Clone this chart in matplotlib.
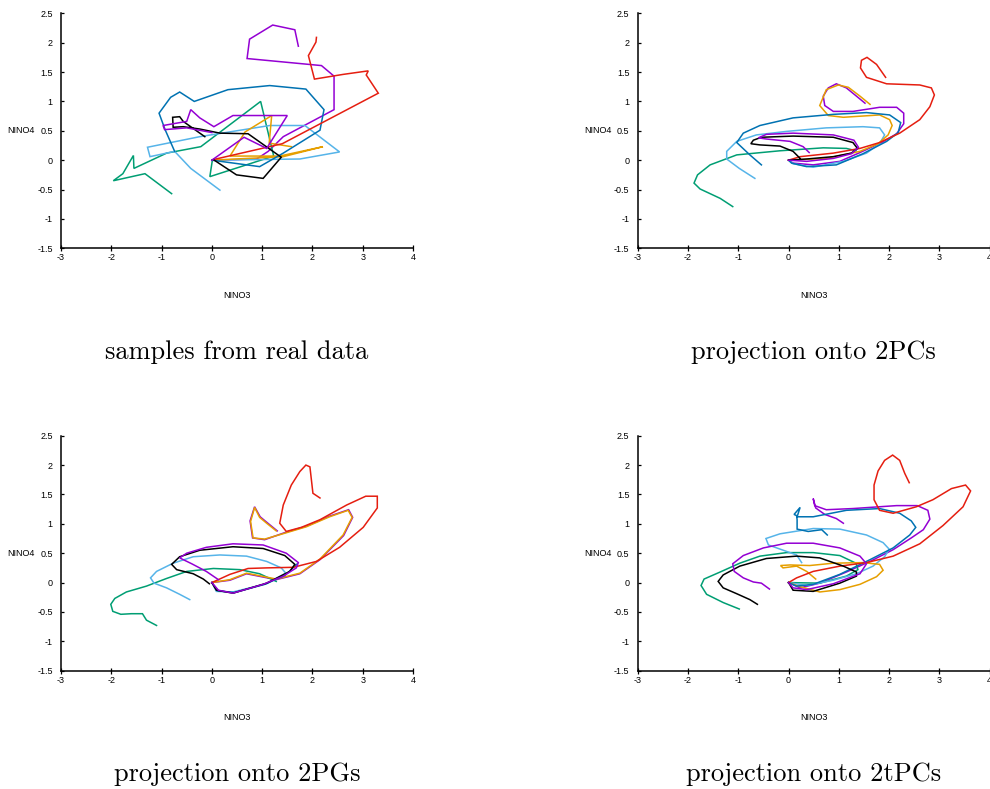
import matplotlib
matplotlib.use("Agg")
import matplotlib.pyplot as plt
from matplotlib.ticker import FormatStrFormatter

plt.rcParams["axes.unicode_minus"] = False

# gnuplot-like line colours
C_PURPLE = "#9400d3"
C_GREEN = "#009e73"
C_LBLUE = "#56b4e9"
C_ORANGE = "#e69f00"
C_DBLUE = "#0072b2"
C_RED = "#e51e10"
C_BLACK = "#000000"

titles = ["samples from real data", "projection onto 2PCs",
          "projection onto 2PGs", "projection onto 2tPCs"]
x_ticks = [-3, -2, -1, 0, 1, 2, 3, 4]
y_ticks = [-1.5, -1, -0.5, 0, 0.5, 1, 1.5, 2, 2.5]

# ---------------------------------------
# panel 1: samples from real data  (NINO3, NINO4) pairs
# ---------------------------------------
real_purple_a = [(1.72, 1.94), (1.65, 2.22), (1.21, 2.30), (0.75, 2.06), (0.70, 1.73),
                 (2.18, 1.61), (2.43, 1.43), (2.43, 0.86), (1.42, 0.40), (1.12, 0.15),
                 (0.89, 0.02), (0.0, 0.0)]
real_green = [(-0.80, -0.57), (-1.33, -0.23), (-1.96, -0.35), (-1.77, -0.23), (-1.56, 0.08),
              (-1.55, -0.14), (-0.90, 0.12), (-0.22, 0.23), (0.97, 1.00), (1.23, 0.07),
              (-0.04, -0.28), (0.01, 0.0)]
real_lblue = [(0.16, -0.51), (-0.42, -0.14), (-0.74, 0.15), (-1.23, 0.06), (-1.28, 0.22),
              (-0.24, 0.40), (1.15, 0.59), (1.85, 0.59), (2.54, 0.14), (1.75, 0.02), (0.0, 0.0)]
real_orange = [(0.0, 0.0), (1.42, 0.06), (2.21, 0.23), (1.35, 0.07), (0.36, 0.07), (0.66, 0.48),
               (1.19, 0.76), (1.14, 0.29), (1.58, 0.23)]
real_dblue = [(-0.74, 0.15), (-0.93, 0.52), (-1.05, 0.80), (-0.82, 1.07), (-0.64, 1.16),
              (-0.35, 1.00), (0.32, 1.20), (1.15, 1.27), (1.87, 1.21), (2.23, 0.86),
              (2.15, 0.51), (1.42, 0.12), (0.95, -0.11), (0.0, 0.0)]
real_red = [(2.08, 2.09), (2.07, 2.01), (1.92, 1.78), (2.04, 1.38), (2.61, 1.46), (3.11, 1.52),
            (3.07, 1.45), (3.31, 1.14), (1.40, 0.28), (0.03, 0.01)]
real_black = [(-0.14, 0.40), (-0.57, 0.66), (-0.64, 0.74), (-0.78, 0.73), (-0.77, 0.56),
              (-0.57, 0.57), (-0.24, 0.53), (0.16, 0.46), (0.72, 0.45), (1.38, 0.05),
              (1.02, -0.31), (0.49, -0.25), (0.03, 0.01)]
real_purple_b = [(0.0, 0.0), (0.64, 0.39), (1.09, 0.20), (1.50, 0.76), (0.42, 0.76), (0.04, 0.57),
                 (-0.24, 0.72), (-0.42, 0.86), (-0.50, 0.66), (-0.97, 0.59), (-0.94, 0.52),
                 (-0.50, 0.55), (0.0, 0.47)]

# ---------------------------------------
# panel 2: projection onto 2PCs
# ---------------------------------------
pc_purple_a = [(1.52, 0.97), (1.35, 1.09), (1.15, 1.23), (0.95, 1.30), (0.79, 1.23), (0.69, 1.09),
               (0.72, 0.93), (0.89, 0.83), (1.28, 0.83), (1.81, 0.90), (2.15, 0.90), (2.29, 0.80),
               (2.29, 0.62), (2.15, 0.45), (1.85, 0.30), (1.42, 0.13), (1.02, -0.02),
               (0.49, -0.08), (0.09, -0.05), (0.0, 0.0)]
pc_green = [(-1.11, -0.79), (-1.36, -0.65), (-1.76, -0.49), (-1.88, -0.39), (-1.81, -0.25),
            (-1.56, -0.08), (-1.03, 0.09), (-0.17, 0.16), (0.69, 0.21), (1.15, 0.20), (1.34, 0.16)]
pc_lblue = [(-0.67, -0.31), (-0.98, -0.14), (-1.23, 0.02), (-1.23, 0.15), (-1.03, 0.32),
            (-0.64, 0.43), (-0.04, 0.49), (0.75, 0.55), (1.48, 0.57), (1.81, 0.55), (1.91, 0.43),
            (1.81, 0.28), (1.55, 0.12), (1.09, -0.02), (0.49, -0.12), (0.09, -0.06), (0.0, 0.0)]
pc_orange = [(1.62, 0.95), (1.42, 1.09), (1.19, 1.24), (0.99, 1.28), (0.75, 1.20), (0.62, 0.93),
             (0.79, 0.76), (1.09, 0.73), (1.81, 0.77), (2.01, 0.69), (2.06, 0.59), (1.98, 0.43),
             (1.78, 0.28), (1.42, 0.15), (0.75, 0.03), (0.0, 0.0)]
pc_dblue = [(-0.54, -0.08), (-0.77, 0.09), (-1.03, 0.30), (-0.90, 0.46), (-0.57, 0.59),
            (0.09, 0.72), (0.89, 0.78), (1.55, 0.81), (2.01, 0.77), (2.23, 0.64), (2.18, 0.47),
            (1.95, 0.32), (1.48, 0.11), (0.95, -0.08), (0.36, -0.11), (0.06, -0.05), (0.0, 0.0)]
pc_red = [(1.93, 1.41), (1.75, 1.63), (1.56, 1.75), (1.45, 1.70), (1.43, 1.57), (1.55, 1.41),
          (1.95, 1.30), (2.61, 1.28), (2.84, 1.23), (2.90, 1.11), (2.81, 0.91), (2.61, 0.69),
          (2.21, 0.46), (1.81, 0.30), (1.42, 0.20), (0.89, 0.12), (0.23, 0.06), (0.0, 0.0)]
pc_black = [(0.23, 0.03), (0.09, 0.15), (-0.17, 0.24), (-0.57, 0.26), (-0.75, 0.28), (-0.70, 0.34),
            (-0.54, 0.39), (0.09, 0.41), (0.89, 0.39), (1.28, 0.30), (1.37, 0.20), (1.25, 0.12),
            (0.89, 0.06), (0.36, 0.02), (0.0, 0.0)]
pc_purple_b = [(0.41, 0.13), (0.29, 0.23), (0.03, 0.32), (-0.44, 0.36), (-0.60, 0.38),
               (-0.44, 0.44), (0.09, 0.46), (0.89, 0.43), (1.30, 0.34), (1.39, 0.22), (1.25, 0.11),
               (0.89, 0.03), (0.36, -0.02), (0.0, 0.0)]

# ---------------------------------------
# panel 3: projection onto 2PGs
# ---------------------------------------
pg_purple_a = [(1.30, 0.88), (1.10, 1.02), (0.96, 1.12), (0.85, 1.29), (0.76, 1.05), (0.81, 0.76),
               (1.05, 0.73), (1.45, 0.85), (1.88, 0.96), (2.34, 1.13), (2.72, 1.24), (2.80, 1.11),
               (2.62, 0.80), (2.15, 0.39), (1.75, 0.15), (1.28, 0.05), (0.69, 0.15), (0.36, 0.04),
               (0.0, 0.0)]
pg_green = [(-1.10, -0.73), (-1.30, -0.64), (-1.38, -0.53), (-1.60, -0.53), (-1.81, -0.54),
            (-1.97, -0.49), (-2.01, -0.37), (-1.93, -0.27), (-1.70, -0.16), (-1.30, -0.06),
            (-0.90, 0.07), (-0.50, 0.19), (0.03, 0.24), (0.56, 0.22), (0.95, 0.15), (1.28, 0.02)]
pg_lblue = [(-0.44, -0.29), (-0.64, -0.20), (-0.90, -0.09), (-1.15, -0.01), (-1.22, 0.08),
            (-1.10, 0.19), (-0.77, 0.33), (-0.37, 0.44), (0.16, 0.47), (0.69, 0.45), (1.09, 0.36),
            (1.38, 0.25), (1.47, 0.16), (1.09, -0.02), (0.42, -0.16), (0.09, -0.15), (0.0, 0.0)]
pg_orange = [(1.28, 0.88), (1.09, 1.01), (0.95, 1.11), (0.85, 1.28), (0.77, 1.04), (0.82, 0.76),
             (1.05, 0.74), (1.45, 0.84), (1.88, 0.95), (2.34, 1.12), (2.71, 1.23), (2.79, 1.11),
             (2.61, 0.81), (2.15, 0.40), (1.75, 0.16), (1.28, 0.06), (0.69, 0.16), (0.36, 0.05),
             (0.0, 0.0)]
pg_dblue = [(1.70, 0.32), (1.45, 0.12), (1.05, -0.03), (0.45, -0.17), (0.12, -0.14), (0.0, 0.0)]
pg_red = [(2.15, 1.44), (2.01, 1.52), (1.95, 1.97), (1.87, 2.00), (1.75, 1.89), (1.58, 1.66),
          (1.42, 1.32), (1.35, 1.01), (1.48, 0.87), (1.78, 0.94), (2.15, 1.07), (2.68, 1.32),
          (3.06, 1.47), (3.29, 1.47), (3.29, 1.27), (3.01, 0.94), (2.54, 0.60), (2.08, 0.36),
          (1.62, 0.26), (1.09, 0.25), (0.72, 0.24), (0.36, 0.14), (0.0, 0.0)]
pg_black = [(-0.05, -0.02), (-0.17, 0.06), (-0.37, 0.15), (-0.70, 0.22), (-0.80, 0.31),
            (-0.64, 0.44), (-0.24, 0.55), (0.42, 0.61), (1.02, 0.58), (1.45, 0.46), (1.65, 0.31),
            (1.55, 0.19), (1.09, -0.01), (0.42, -0.18), (0.09, -0.13), (0.0, 0.0)]
pg_purple_b = [(0.13, 0.05), (-0.11, 0.19), (-0.40, 0.32), (-0.64, 0.42), (-0.50, 0.50),
               (-0.11, 0.60), (0.42, 0.66), (1.02, 0.64), (1.48, 0.50), (1.72, 0.34), (1.68, 0.25),
               (1.42, 0.11), (1.02, -0.03), (0.42, -0.18), (0.13, -0.13), (0.0, 0.0)]

# ---------------------------------------
# panel 4: projection onto 2tPCs
# ---------------------------------------
tpc_purple_a = [(1.09, 1.01), (0.95, 1.09), (0.72, 1.16), (0.54, 1.27), (0.49, 1.43), (0.52, 1.31),
                (0.75, 1.24), (1.28, 1.26), (2.15, 1.31), (2.56, 1.31), (2.77, 1.23), (2.81, 1.08),
                (2.68, 0.90), (2.44, 0.76), (2.08, 0.56), (1.62, 0.36), (1.15, 0.18), (0.62, -0.01),
                (0.23, -0.09), (0.0, 0.0)]
tpc_green = [(-0.98, -0.45), (-1.30, -0.34), (-1.63, -0.20), (-1.74, -0.05), (-1.68, 0.06),
             (-1.36, 0.18), (-0.97, 0.33), (-0.57, 0.45), (-0.04, 0.51), (0.49, 0.51), (1.02, 0.46),
             (1.34, 0.33), (1.38, 0.22), (1.15, 0.11), (0.62, -0.01), (0.0, 0.0)]
tpc_lblue = [(0.26, 0.34), (0.16, 0.47), (-0.17, 0.57), (-0.40, 0.64), (-0.45, 0.75), (-0.17, 0.83),
             (0.49, 0.92), (1.02, 0.91), (1.55, 0.81), (1.88, 0.68), (2.00, 0.57), (1.91, 0.44),
             (1.68, 0.28), (1.35, 0.15), (0.89, 0.04), (0.36, -0.05), (0.0, 0.0)]
tpc_orange = [(0.54, 0.06), (0.36, 0.19), (0.16, 0.28), (-0.11, 0.25), (-0.16, 0.29), (0.03, 0.30),
              (0.42, 0.29), (0.89, 0.33), (1.48, 0.34), (1.81, 0.31), (1.88, 0.21), (1.75, 0.10),
              (1.42, -0.03), (1.02, -0.12), (0.62, -0.16), (0.23, -0.07), (0.0, 0.0)]
tpc_dblue = [(0.77, 0.81), (0.66, 0.90), (0.39, 0.87), (0.17, 0.91), (0.17, 1.07), (0.16, 1.14),
             (0.11, 1.16), (0.23, 1.28), (0.17, 1.12), (0.49, 1.12), (1.15, 1.23), (1.81, 1.26),
             (2.21, 1.18), (2.44, 1.05), (2.53, 0.94), (2.41, 0.81), (2.08, 0.59), (1.62, 0.39),
             (1.02, 0.14), (0.49, -0.03), (0.16, -0.06), (0.0, 0.0)]
tpc_red = [(2.40, 1.70), (2.31, 1.86), (2.21, 2.08), (2.07, 2.17), (1.91, 2.08), (1.78, 1.90),
           (1.70, 1.66), (1.70, 1.41), (1.81, 1.23), (2.08, 1.18), (2.54, 1.29), (2.87, 1.41),
           (3.24, 1.60), (3.52, 1.66), (3.62, 1.56), (3.47, 1.29), (3.07, 0.97), (2.61, 0.66),
           (2.08, 0.45), (1.55, 0.34), (1.02, 0.28), (0.49, 0.19), (0.16, 0.08), (0.0, 0.0)]
tpc_black = [(-0.62, -0.37), (-0.77, -0.29), (-1.03, -0.19), (-1.30, -0.09), (-1.40, 0.02),
             (-1.30, 0.13), (-0.97, 0.28), (-0.44, 0.41), (0.16, 0.45), (0.62, 0.42), (1.09, 0.28),
             (1.35, 0.18), (1.35, 0.11), (1.02, -0.01), (0.49, -0.15), (0.09, -0.13), (0.0, 0.0)]
tpc_purple_b = [(-0.38, -0.11), (-0.54, -0.01), (-0.70, 0.01), (-0.90, 0.08), (-1.08, 0.19),
                (-1.11, 0.32), (-0.90, 0.46), (-0.50, 0.59), (-0.04, 0.67), (0.49, 0.67),
                (1.02, 0.59), (1.42, 0.45), (1.55, 0.32), (1.42, 0.15), (0.89, -0.02),
                (0.36, -0.12), (0.09, -0.09), (0.0, 0.0)]

panels = [
    [real_purple_a, real_green, real_lblue, real_orange, real_dblue, real_red, real_black, real_purple_b],
    [pc_purple_a, pc_green, pc_lblue, pc_orange, pc_dblue, pc_red, pc_black, pc_purple_b],
    [pg_purple_a, pg_green, pg_lblue, pg_orange, pg_dblue, pg_red, pg_black, pg_purple_b],
    [tpc_purple_a, tpc_green, tpc_lblue, tpc_orange, tpc_dblue, tpc_red, tpc_black, tpc_purple_b],
]
colors = [C_PURPLE, C_GREEN, C_LBLUE, C_ORANGE, C_DBLUE, C_RED, C_BLACK, C_PURPLE]

# ---------------------------------------
# Figure layout (2 x 2, captions under each plot)
# ---------------------------------------
W, H = 990, 789
fig = plt.figure(figsize=(W / 100, H / 100), dpi=100)

lefts = [61, 637.7]
tops = [13.3, 435.7]
aw, ah = 352, 235

for i, trajs in enumerate(panels):
    r, c = divmod(i, 2)
    x0, y0 = lefts[c], tops[r]
    ax = fig.add_axes([x0 / W, 1 - (y0 + ah) / H, aw / W, ah / H])

    for traj, col in zip(trajs, colors):
        xs = [p[0] for p in traj]
        ys = [p[1] for p in traj]
        ax.plot(xs, ys, color=col, lw=1.1, solid_joinstyle="miter")

    ax.set_xlim(-3, 4)
    ax.set_ylim(-1.5, 2.5)
    ax.set_xticks(x_ticks)
    ax.set_yticks(y_ticks)
    ax.xaxis.set_major_formatter(FormatStrFormatter("%g"))
    ax.yaxis.set_major_formatter(FormatStrFormatter("%g"))
    ax.spines["top"].set_visible(False)
    ax.spines["right"].set_visible(False)
    for s in ("left", "bottom"):
        ax.spines[s].set_linewidth(1.1)
    ax.tick_params(axis="y", direction="in", length=2.5, width=0.9, labelsize=6.5, pad=6)
    ax.tick_params(axis="x", direction="inout", length=5, width=0.9, labelsize=6.5, pad=1)
    for lab in ax.get_xticklabels() + ax.get_yticklabels():
        lab.set_family("Liberation Sans")
    ax.patch.set_alpha(0)

    ax.set_xlabel("NINO3", fontsize=6.5, family="Liberation Sans", va="center")
    ax.xaxis.set_label_coords(0.5, -0.2)
    ax.set_ylabel("NINO4", fontsize=6.5, family="Liberation Sans", rotation=0,
                  ha="right", va="center")
    ax.yaxis.set_label_coords(-0.074, 0.5)

    fig.text((x0 + aw / 2) / W, 1 - (y0 + 338.5) / H, titles[i], fontsize=19,
             family="cmr10", ha="center", va="center")

fig.savefig("out.png", dpi=100)
